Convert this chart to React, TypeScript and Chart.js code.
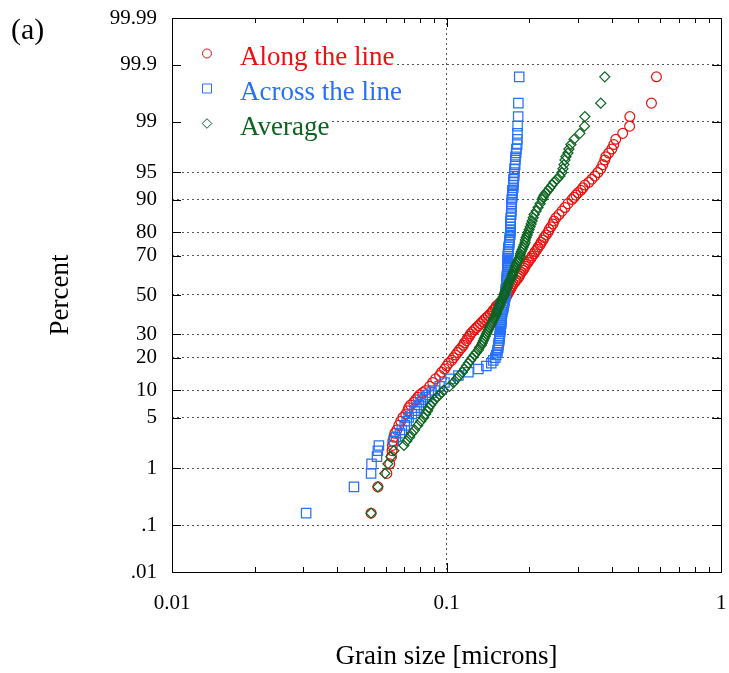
import React, { useEffect, useRef } from 'react';
import { Chart, registerables, Scale } from 'chart.js';

// ---------------- data ----------------
const PERCENT = [
  0.17, 0.5, 0.83, 1.17, 1.5, 1.83, 2.17, 2.5, 2.83, 3.17,
  3.5, 4, 4.5, 5, 5.5, 6, 6.5, 7, 7.5, 8, 8.5, 9, 9.5,
  10, 11, 12, 13, 14, 15, 16, 17, 18, 19,
  20, 21, 22, 23, 24, 25, 26, 27, 28, 29,
  30, 31, 32, 33, 34, 35, 36, 37, 38, 39,
  40, 41, 42, 43, 44, 45, 46, 47, 48, 49,
  50, 51, 52, 53, 54, 55, 56, 57, 58, 59,
  60, 61, 62, 63, 64, 65, 66, 67, 68, 69,
  70, 71, 72, 73, 74, 75, 76, 77, 78, 79,
  80, 81, 82, 83, 84, 85, 86, 87, 88, 89,
  90, 90.5, 91, 91.5, 92, 92.5, 93, 93.5, 94, 94.5, 95,
  95.5, 96, 96.5, 96.83, 97.17, 97.5, 97.83, 98.17, 98.5, 98.83,
  99.17, 99.5, 99.83,
];

const ALONG = [
  0.0531, 0.0562, 0.0606, 0.0621, 0.0630, 0.0633, 0.0635, 0.0637, 0.0643, 0.0648,
  0.0659, 0.0670, 0.0681, 0.0693, 0.0710, 0.0722, 0.0728, 0.0740, 0.0759, 0.0772, 0.0785, 0.0798, 0.0818,
  0.0839, 0.0868, 0.0890, 0.0912, 0.0943, 0.0959, 0.0983, 0.1000, 0.1017, 0.1043,
  0.1060, 0.1078, 0.1096, 0.1114, 0.1133, 0.1152, 0.1161, 0.1181, 0.1191, 0.1211,
  0.1221, 0.1241, 0.1262, 0.1284, 0.1306, 0.1328, 0.1350, 0.1372, 0.1396, 0.1419,
  0.1443, 0.1467, 0.1480, 0.1505, 0.1517, 0.1543, 0.1569, 0.1595, 0.1622, 0.1649,
  0.1663, 0.1677, 0.1691, 0.1706, 0.1720, 0.1734, 0.1749, 0.1778, 0.1793, 0.1823,
  0.1839, 0.1854, 0.1870, 0.1901, 0.1917, 0.1933, 0.1949, 0.1982, 0.1998, 0.2032,
  0.2049, 0.2084, 0.2101, 0.2137, 0.2154, 0.2191, 0.2209, 0.2246, 0.2265, 0.2303,
  0.2342, 0.2362, 0.2401, 0.2442, 0.2462, 0.2504, 0.2567, 0.2632, 0.2699, 0.2767,
  0.2861, 0.2909, 0.2958, 0.3008, 0.3084, 0.3136, 0.3189, 0.3297, 0.3381, 0.3466, 0.3554,
  0.3644, 0.3706, 0.3768, 0.3800, 0.3896, 0.3997, 0.4064, 0.4132, 0.4380, 0.4642,
  0.4650, 0.5574, 0.5812,
];

const ACROSS = [
  0.0308, 0.0460, 0.0531, 0.0533, 0.0558, 0.0562, 0.0567, 0.0643, 0.0654, 0.0676,
  0.0687, 0.0704, 0.0716, 0.0728, 0.0747, 0.0765, 0.0778, 0.0792, 0.0805, 0.0818, 0.0839, 0.0861, 0.0882,
  0.0905, 0.0943, 0.0983, 0.1034, 0.1105, 0.1201, 0.1306, 0.1396, 0.1455, 0.1480,
  0.1505, 0.1517, 0.1530, 0.1533, 0.1543, 0.1545, 0.1547, 0.1556, 0.1558, 0.1560,
  0.1562, 0.1569, 0.1571, 0.1573, 0.1575, 0.1582, 0.1584, 0.1585, 0.1587, 0.1588,
  0.1590, 0.1595, 0.1598, 0.1609, 0.1611, 0.1614, 0.1622, 0.1625, 0.1628, 0.1636,
  0.1637, 0.1639, 0.1640, 0.1642, 0.1649, 0.1650, 0.1651, 0.1653, 0.1654, 0.1656,
  0.1658, 0.1663, 0.1664, 0.1665, 0.1666, 0.1667, 0.1668, 0.1669, 0.1670, 0.1671,
  0.1672, 0.1674, 0.1677, 0.1679, 0.1681, 0.1691, 0.1693, 0.1695, 0.1697, 0.1706,
  0.1707, 0.1708, 0.1709, 0.1710, 0.1711, 0.1712, 0.1720, 0.1721, 0.1722, 0.1724,
  0.1726, 0.1734, 0.1735, 0.1736, 0.1737, 0.1749, 0.1750, 0.1751, 0.1752, 0.1764, 0.1765,
  0.1767, 0.1778, 0.1780, 0.1782, 0.1793, 0.1796, 0.1808, 0.1810, 0.1812, 0.1814,
  0.1823, 0.1826, 0.1839,
];

const AVERAGE = [
  0.0531, 0.0562, 0.0596, 0.0611, 0.0627, 0.0643, 0.0699, 0.0716, 0.0734, 0.0747,
  0.0765, 0.0785, 0.0805, 0.0825, 0.0839, 0.0853, 0.0861, 0.0875, 0.0890, 0.0905, 0.0920, 0.0943, 0.0959,
  0.0975, 0.1025, 0.1060, 0.1087, 0.1114, 0.1142, 0.1161, 0.1181, 0.1201, 0.1221,
  0.1241, 0.1262, 0.1284, 0.1306, 0.1317, 0.1339, 0.1350, 0.1361, 0.1372, 0.1384,
  0.1396, 0.1407, 0.1419, 0.1431, 0.1443, 0.1455, 0.1467, 0.1480, 0.1492, 0.1505,
  0.1517, 0.1520, 0.1530, 0.1543, 0.1556, 0.1559, 0.1569, 0.1582, 0.1595, 0.1609,
  0.1622, 0.1625, 0.1636, 0.1649, 0.1663, 0.1666, 0.1677, 0.1691, 0.1706, 0.1720,
  0.1734, 0.1737, 0.1749, 0.1764, 0.1778, 0.1781, 0.1793, 0.1808, 0.1823, 0.1839,
  0.1854, 0.1857, 0.1870, 0.1886, 0.1901, 0.1917, 0.1933, 0.1936, 0.1949, 0.1966,
  0.1982, 0.1998, 0.2015, 0.2032, 0.2049, 0.2067, 0.2084, 0.2119, 0.2154, 0.2191,
  0.2228, 0.2246, 0.2265, 0.2303, 0.2342, 0.2381, 0.2421, 0.2462, 0.2525, 0.2589, 0.2632,
  0.2654, 0.2676, 0.2699, 0.2721, 0.2767, 0.2790, 0.2837, 0.2909, 0.3058, 0.3180,
  0.3189, 0.3644, 0.3768,
];

const SERIES_LABELS = ['Along the line', 'Across the line', 'Average'];
const Y_TICK_VALUES = [0.01, 0.1, 1, 5, 10, 20, 30, 50, 70, 80, 90, 95, 99, 99.9, 99.99];
const Y_TICK_LABELS = ['.01', '.1', '1', '5', '10', '20', '30', '50', '70', '80', '90', '95', '99', '99.9', '99.99'];
const X_TICK_VALUES = [
  0.01, 0.02, 0.03, 0.04, 0.05, 0.06, 0.07, 0.08, 0.09,
  0.1, 0.2, 0.3, 0.4, 0.5, 0.6, 0.7, 0.8, 0.9, 1,
];
const X_MAJOR_VALUES = [0.01, 0.1, 1];
const X_MAJOR_LABELS = ['0.01', '0.1', '1'];
const X_TITLE = 'Grain size [microns]';
const Y_TITLE = 'Percent';
const PANEL_LABEL = '(a)';

// ---------------- styles ----------------
const SERIF = "'Liberation Serif', 'Times New Roman', Times, serif";
const RED = 'rgb(232, 18, 16)';
const BLUE = 'rgb(38, 112, 250)';
const GREEN = 'rgb(12, 100, 32)';
const GRID = '#555555';

// ---------------- normal probability helpers ----------------
function probit(p: number): number {
  const a = [-3.969683028665376e1, 2.209460984245205e2, -2.759285104469687e2, 1.38357751867269e2, -3.066479806614716e1, 2.506628277459239];
  const b = [-5.447609879822406e1, 1.615858368580409e2, -1.556989798598866e2, 6.680131188771972e1, -1.328068155288572e1];
  const c = [-7.784894002430293e-3, -3.223964580411365e-1, -2.400758277161838, -2.549732539343734, 4.374664141464968, 2.938163982698783];
  const d = [7.784695709041462e-3, 3.224671290700398e-1, 2.445134137142996, 3.754408661907416];
  const pl = 0.02425;
  if (p < pl) {
    const q = Math.sqrt(-2 * Math.log(p));
    return (((((c[0] * q + c[1]) * q + c[2]) * q + c[3]) * q + c[4]) * q + c[5]) /
      ((((d[0] * q + d[1]) * q + d[2]) * q + d[3]) * q + 1);
  }
  if (p <= 1 - pl) {
    const q = p - 0.5;
    const r = q * q;
    return ((((((a[0] * r + a[1]) * r + a[2]) * r + a[3]) * r + a[4]) * r + a[5]) * q) /
      (((((b[0] * r + b[1]) * r + b[2]) * r + b[3]) * r + b[4]) * r + 1);
  }
  const q = Math.sqrt(-2 * Math.log(1 - p));
  return -(((((c[0] * q + c[1]) * q + c[2]) * q + c[3]) * q + c[4]) * q + c[5]) /
    ((((d[0] * q + d[1]) * q + d[2]) * q + d[3]) * q + 1);
}

function normCdf(z: number): number {
  const t = 1 / (1 + 0.3275911 * Math.abs(z) / Math.SQRT2);
  const y = 1 - (((((1.061405429 * t - 1.453152027) * t) + 1.421413741) * t - 0.284496736) * t + 0.254829592) * t * Math.exp(-z * z / 2);
  return z >= 0 ? 0.5 * (1 + y) : 0.5 * (1 - y);
}

// Normal-probability (percent) scale
class ProbitScale extends Scale {
  static id = 'probit';
  static defaults = {};
  determineDataLimits() {
    (this as any).min = Y_TICK_VALUES[0];
    (this as any).max = Y_TICK_VALUES[Y_TICK_VALUES.length - 1];
  }
  buildTicks() {
    return Y_TICK_VALUES.map((v) => ({ value: v }));
  }
  getLabelForValue(v: number) {
    return String(v);
  }
  _zRange() {
    const s: any = this;
    return [probit(s.min / 100), probit(s.max / 100)];
  }
  getPixelForValue(v: number) {
    const [z0, z1] = this._zRange();
    const z = probit(v / 100);
    return (this as any).getPixelForDecimal((z - z0) / (z1 - z0));
  }
  getPixelForTick(i: number) {
    return this.getPixelForValue((this as any).ticks[i].value);
  }
  getValueForPixel(px: number) {
    const [z0, z1] = this._zRange();
    const dec = (this as any).getDecimalForPixel(px);
    return 100 * normCdf(z0 + dec * (z1 - z0));
  }
}

Chart.register(...registerables, ProbitScale as any);

// ---------------- plugins ----------------
const legendPlugin = {
  id: 'insideLegend',
  beforeDatasetsDraw(chart: any) {
    const { ctx, chartArea } = chart;
    const colors = [RED, BLUE, GREEN];
    ctx.save();
    ctx.font = `27px ${SERIF}`;
    ctx.textBaseline = 'alphabetic';
    SERIES_LABELS.forEach((label, i) => {
      const base = chartArea.top + 47 + i * 35;
      const mx = chartArea.left + 35;
      const my = base - 11.5;
      const tx = chartArea.left + 68;
      const tw = ctx.measureText(label).width;
      ctx.fillStyle = '#ffffff';
      ctx.fillRect(chartArea.left + 1, base - 24, tx + tw + 1 - (chartArea.left + 1), 31);
      ctx.strokeStyle = colors[i];
      ctx.lineWidth = 1;
      ctx.beginPath();
      if (i === 0) {
        ctx.arc(mx, my, 4.5, 0, Math.PI * 2);
      } else if (i === 1) {
        ctx.rect(mx - 4.5, my - 4.5, 9, 9);
      } else {
        ctx.moveTo(mx, my - 4.8);
        ctx.lineTo(mx + 4.8, my);
        ctx.lineTo(mx, my + 4.8);
        ctx.lineTo(mx - 4.8, my);
        ctx.closePath();
      }
      ctx.stroke();
      ctx.fillStyle = colors[i];
      ctx.fillText(label, tx, base);
    });
    ctx.restore();
  },
};

const framePlugin = {
  id: 'frameTicks',
  afterDraw(chart: any) {
    const { ctx, chartArea } = chart;
    const xs = chart.scales.x;
    const ys = chart.scales.y;
    const { left, right, top, bottom } = chartArea;
    ctx.save();
    ctx.strokeStyle = '#000';
    ctx.lineWidth = 1;
    ctx.beginPath();
    X_TICK_VALUES.forEach((v) => {
      const px = Math.round(xs.getPixelForValue(v)) + 0.5;
      const len = X_MAJOR_VALUES.includes(v) ? 9 : 5;
      ctx.moveTo(px, bottom);
      ctx.lineTo(px, bottom - len);
      ctx.moveTo(px, top);
      ctx.lineTo(px, top + len);
    });
    Y_TICK_VALUES.forEach((v) => {
      const py = Math.round(ys.getPixelForValue(v)) + 0.5;
      ctx.moveTo(left, py);
      ctx.lineTo(left + 9, py);
      ctx.moveTo(right, py);
      ctx.lineTo(right - 9, py);
    });
    ctx.stroke();
    ctx.strokeRect(Math.round(left) + 0.5, Math.round(top) + 0.5, Math.round(right - left), Math.round(bottom - top));
    ctx.fillStyle = '#000';
    ctx.font = `30px ${SERIF}`;
    ctx.textBaseline = 'alphabetic';
    ctx.textAlign = 'left';
    ctx.fillText(PANEL_LABEL, 11, 39);
    ctx.restore();
  },
};

// ---------------- component ----------------
export default function App() {
  const canvasRef = useRef<HTMLCanvasElement | null>(null);

  useEffect(() => {
    const canvas = canvasRef.current;
    if (!canvas) return;
    const mk = (arr: number[]) => arr.map((x, i) => ({ x, y: PERCENT[i] }));
    const chart = new Chart(canvas, {
      type: 'scatter',
      data: {
        datasets: [
          {
            label: SERIES_LABELS[0],
            data: mk(ALONG),
            pointStyle: 'circle',
            pointRadius: 4.9,
            borderColor: RED,
            backgroundColor: 'rgba(0,0,0,0)',
            borderWidth: 1.25,
            order: 2,
          },
          {
            label: SERIES_LABELS[1],
            data: mk(ACROSS),
            pointStyle: 'rect',
            pointRadius: 6.6,
            borderColor: BLUE,
            backgroundColor: 'rgba(0,0,0,0)',
            borderWidth: 1.25,
            order: 1,
          },
          {
            label: SERIES_LABELS[2],
            data: mk(AVERAGE),
            pointStyle: 'rectRot',
            pointRadius: 5,
            borderColor: GREEN,
            backgroundColor: 'rgba(0,0,0,0)',
            borderWidth: 1.25,
            order: 0,
          },
        ],
      },
      options: {
        responsive: false,
        animation: false,
        devicePixelRatio: 1,
        layout: { padding: { top: 18, right: 5, left: 0, bottom: 0 } },
        plugins: {
          legend: { display: false },
          tooltip: { enabled: false },
        },
        scales: {
          x: {
            type: 'logarithmic',
            min: 0.01,
            max: 1,
            afterBuildTicks: (s: any) => {
              s.ticks = X_TICK_VALUES.map((v) => ({ value: v, major: X_MAJOR_VALUES.includes(v) }));
            },
            afterFit: (s: any) => {
              s.height = 101;
              s.paddingLeft = 0;
              s.paddingRight = 0;
            },
            ticks: {
              autoSkip: false,
              maxRotation: 0,
              padding: 19,
              color: '#000',
              font: { family: SERIF, size: 21 },
              callback: (v: any) => {
                const i = X_MAJOR_VALUES.indexOf(Number(v));
                return i >= 0 ? X_MAJOR_LABELS[i] : '';
              },
            },
            grid: {
              drawTicks: false,
              lineWidth: 1,
              color: (c: any) => (c.tick && c.tick.value === 0.1 ? GRID : 'rgba(0,0,0,0)'),
            },
            border: { display: false, dash: [2, 3] },
            title: {
              display: true,
              text: X_TITLE,
              color: '#000',
              font: { family: SERIF, size: 27 },
              padding: { top: 0, bottom: 0 },
            },
          },
          y: {
            type: 'probit' as any,
            position: 'left',
            afterFit: (s: any) => {
              s.width = 172;
              s.paddingTop = 0;
              s.paddingBottom = 0;
            },
            ticks: {
              autoSkip: false,
              padding: 15,
              color: '#000',
              font: { family: SERIF, size: 21 },
              callback: (v: any) => {
                const i = Y_TICK_VALUES.indexOf(Number(v));
                return i >= 0 ? Y_TICK_LABELS[i] : '';
              },
            },
            grid: {
              drawTicks: false,
              lineWidth: 1,
              color: (c: any) =>
                c.tick && (c.tick.value === 0.01 || c.tick.value === 99.99) ? 'rgba(0,0,0,0)' : GRID,
            },
            border: { display: false, dash: [2, 3] },
            title: {
              display: true,
              text: Y_TITLE,
              color: '#000',
              font: { family: SERIF, size: 27 },
              padding: { top: 45, bottom: 0 },
            },
          },
        } as any,
      },
      plugins: [legendPlugin, framePlugin],
    } as any);
    return () => chart.destroy();
  }, []);

  return (
    <div style={{ position: 'absolute', left: 0, top: 0, width: 729, height: 673, background: '#fff' }}>
      <canvas ref={canvasRef} width={729} height={673} style={{ display: 'block' }} />
    </div>
  );
}
